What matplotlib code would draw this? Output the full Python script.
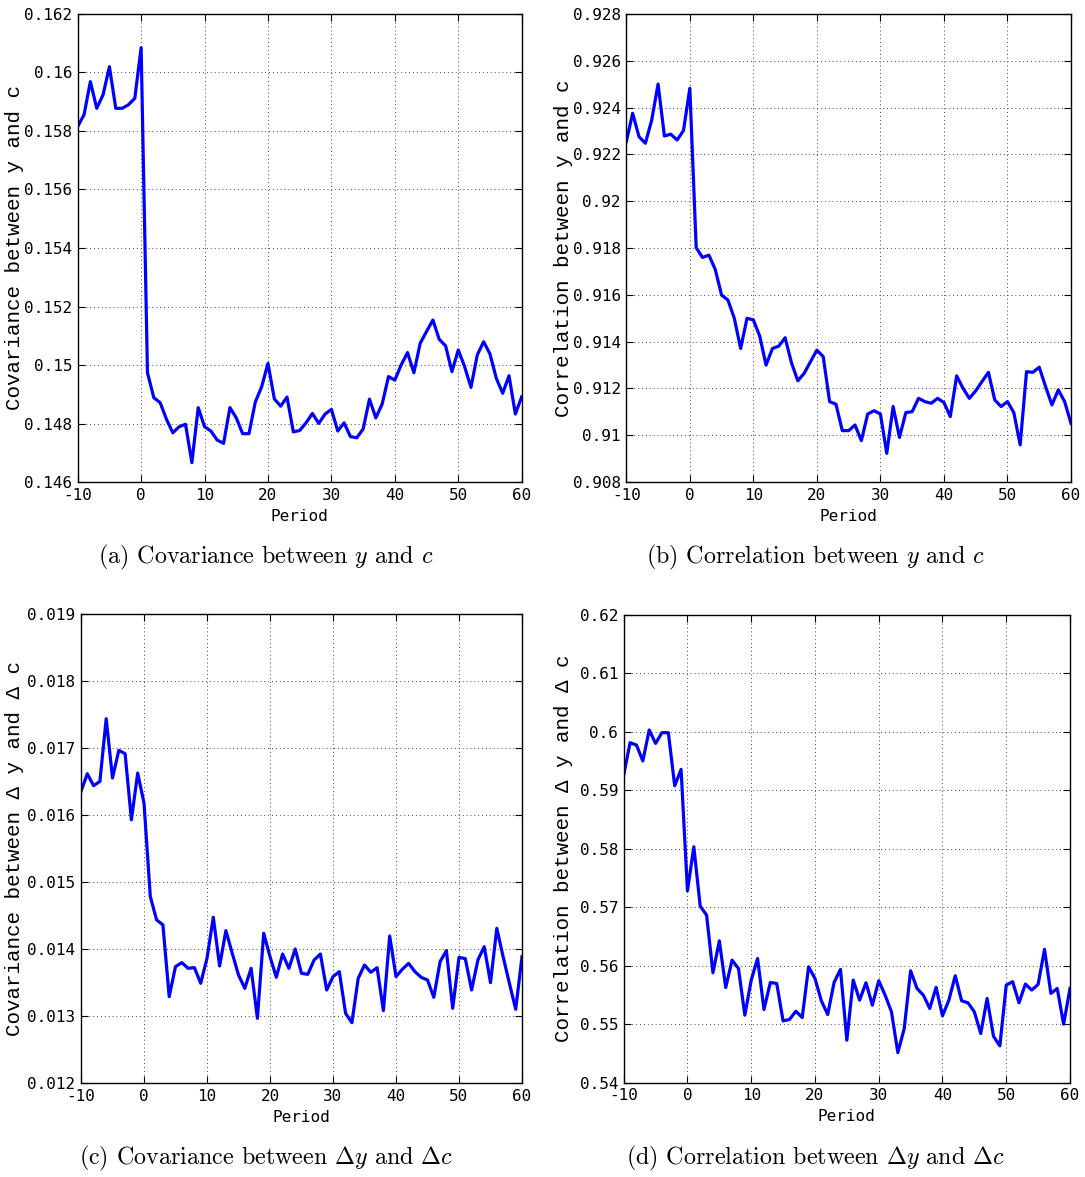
import matplotlib
matplotlib.use("Agg")
import matplotlib.pyplot as plt
from matplotlib.ticker import FormatStrFormatter, MultipleLocator

plt.rcParams['axes.unicode_minus'] = False
plt.rcParams['mathtext.fontset'] = 'cm'

FIG_W, FIG_H = 1085, 1177

periods = list(range(-10, 61))

# (a) covariance between y and c
cov_yc = [
    0.15815, 0.15855, 0.15968, 0.15877, 0.15923, 0.16019, 0.15877, 0.15877, 0.15889, 0.15911,
    0.16084,
    0.14974, 0.14889, 0.14872, 0.14815, 0.14769, 0.14790, 0.14798, 0.14667, 0.14855, 0.14790,
    0.14775, 0.14744, 0.14733, 0.14855, 0.14820, 0.14766, 0.14766, 0.14874, 0.14926, 0.15006,
    0.14885, 0.14860, 0.14891, 0.14772, 0.14777, 0.14803, 0.14835, 0.14801, 0.14833, 0.14849,
    0.14775, 0.14803, 0.14756, 0.14752, 0.14782, 0.14884, 0.14820, 0.14867, 0.14961, 0.14949,
    0.15001, 0.15043, 0.14974, 0.15075, 0.15115, 0.15154, 0.15088, 0.15066, 0.14978, 0.15052,
    0.14995, 0.14924, 0.15035, 0.15080, 0.15038, 0.14955, 0.14904, 0.14964, 0.14833, 0.14892,
]

# (b) correlation between y and c
corr_yc = [
    0.92255, 0.92376, 0.92276, 0.92248, 0.92347, 0.92501, 0.92279, 0.92287, 0.92262, 0.92302,
    0.92483,
    0.91802, 0.91760, 0.91770, 0.91709, 0.91599, 0.91578, 0.91500, 0.91371, 0.91500, 0.91493,
    0.91424, 0.91300, 0.91371, 0.91381, 0.91417, 0.91310, 0.91233, 0.91265, 0.91315, 0.91364,
    0.91336, 0.91144, 0.91133, 0.91020, 0.91020, 0.91044, 0.90977, 0.91091, 0.91105, 0.91091,
    0.90923, 0.91123, 0.90991, 0.91097, 0.91101, 0.91158, 0.91144, 0.91137, 0.91158, 0.91140,
    0.91080, 0.91254, 0.91201, 0.91158, 0.91190, 0.91230, 0.91269, 0.91151, 0.91123, 0.91144,
    0.91097, 0.90959, 0.91272, 0.91269, 0.91291, 0.91208, 0.91130, 0.91194, 0.91144, 0.91051,
]

# (c) covariance between dy and dc
cov_dydc = [
    0.016352, 0.016616, 0.016437, 0.016502, 0.017438, 0.016552, 0.016965, 0.016915, 0.015929, 0.016626,
    0.016178,
    0.014783, 0.014435, 0.014360, 0.013289, 0.013737, 0.013797, 0.013712, 0.013722, 0.013488, 0.013860,
    0.014474, 0.013747, 0.014275, 0.013937, 0.013613, 0.013413, 0.013712, 0.012965, 0.014235, 0.013887,
    0.013578, 0.013925, 0.013711, 0.014000, 0.013637, 0.013622, 0.013836, 0.013925, 0.013388, 0.013587,
    0.013662, 0.013040, 0.012900, 0.013562, 0.013761, 0.013652, 0.013721, 0.013080, 0.014194, 0.013587,
    0.013697, 0.013786, 0.013662, 0.013577, 0.013537, 0.013279, 0.013811, 0.013975, 0.013114, 0.013876,
    0.013856, 0.013388, 0.013836, 0.014035, 0.013498, 0.014308, 0.013886, 0.013488, 0.013100, 0.013886,
]

# (d) correlation between dy and dc
corr_dydc = [
    0.59259, 0.59812, 0.59772, 0.59500, 0.60029, 0.59800, 0.59983, 0.59983, 0.59076, 0.59356,
    0.57280,
    0.58033, 0.57018, 0.56864, 0.55878, 0.56425, 0.55627, 0.56095, 0.55952, 0.55154, 0.55753,
    0.56123, 0.55251, 0.55713, 0.55696, 0.55057, 0.55080, 0.55222, 0.55114, 0.55981, 0.55781,
    0.55400, 0.55166, 0.55714, 0.55937, 0.54726, 0.55754, 0.55411, 0.55709, 0.55326, 0.55743,
    0.55497, 0.55211, 0.54514, 0.54926, 0.55914, 0.55611, 0.55497, 0.55269, 0.55629, 0.55143,
    0.55411, 0.55829, 0.55400, 0.55366, 0.55211, 0.54840, 0.55440, 0.54794, 0.54629, 0.55669,
    0.55726, 0.55366, 0.55686, 0.55583, 0.55680, 0.56280, 0.55526, 0.55611, 0.55000, 0.55611,
]

ylabels = [
    "Covariance between y and c",
    "Correlation between y and c",
    "Covariance between \u0394 y and \u0394 c",
    "Correlation between \u0394 y and \u0394 c",
]
captions = [
    r"(a) Covariance between $y$ and $c$",
    r"(b) Correlation between $y$ and $c$",
    r"(c) Covariance between $\Delta y$ and $\Delta c$",
    r"(d) Correlation between $\Delta y$ and $\Delta c$",
]
ylims = [(0.146, 0.162), (0.908, 0.928), (0.012, 0.019), (0.54, 0.62)]
ysteps = [0.002, 0.002, 0.001, 0.01]

# axes boxes in pixels: left, right, top, bottom
boxes = [
    (77.7, 521.7, 13.7, 482.3),
    (626.3, 1071.0, 14.1, 482.1),
    (81.0, 522.0, 614.0, 1083.0),
    (623.7, 1070.0, 614.7, 1082.7),
]
caption_pos = [(266, 557), (815, 557), (266, 1158), (815, 1158)]
ylabel_x = [24, 573, 24, 573]

TICK_FONT = ['DejaVu Sans Mono']
LABEL_FONT = ['Liberation Mono', 'DejaVu Sans Mono']


def main():
    fig = plt.figure(figsize=(FIG_W / 100, FIG_H / 100), dpi=100)
    series = [cov_yc, corr_yc, cov_dydc, corr_dydc]

    for i in range(4):
        l, r, t, b = boxes[i]
        ax = fig.add_axes([l / FIG_W, 1 - b / FIG_H, (r - l) / FIG_W, (b - t) / FIG_H])
        ax.plot(periods, series[i], color=(0, 0, 1), linewidth=2.3)
        ax.set_xlim(-10, 60)
        ax.set_ylim(*ylims[i])
        ax.xaxis.set_major_locator(MultipleLocator(10))
        ax.yaxis.set_major_locator(MultipleLocator(ysteps[i]))
        ax.yaxis.set_major_formatter(FormatStrFormatter('%g'))
        ax.grid(True, linestyle=(0, (1, 3)), color='#444444', linewidth=0.7)
        ax.tick_params(direction='in', top=True, right=True, length=5, width=0.8,
                       pad=4, labelsize=11.5)
        for lab in ax.get_xticklabels() + ax.get_yticklabels():
            lab.set_family(TICK_FONT)
        for s in ax.spines.values():
            s.set_linewidth(1.0)

        # "Period" sits about 34 px under the axes
        ax.set_xlabel("Period", family=TICK_FONT, fontsize=11.5, va='center')
        ax.xaxis.set_label_coords(0.5, -34 / (b - t))
        ax.set_ylabel(ylabels[i], family=LABEL_FONT, fontsize=15)
        ax.yaxis.set_label_coords(-(l - ylabel_x[i]) / (r - l), 0.5)

        cx, cy = caption_pos[i]
        fig.text(cx / FIG_W, 1 - cy / FIG_H, captions[i], family='cmr10',
                 fontsize=17.3, ha='center', va='center')

    fig.savefig("out.png", dpi=100)


if __name__ == "__main__":
    main()
